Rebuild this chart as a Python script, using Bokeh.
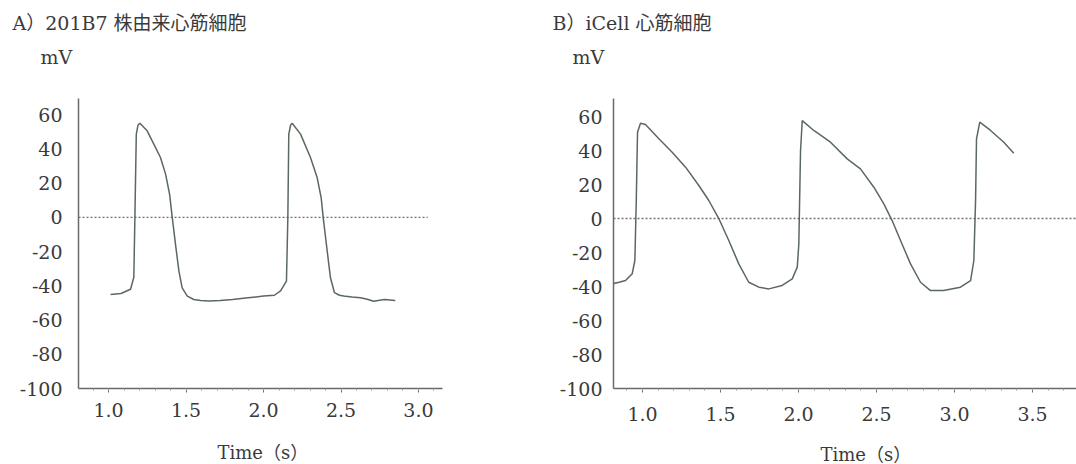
from bokeh.plotting import figure
from bokeh.layouts import row, column
from bokeh.models import FixedTicker, PrintfTickFormatter, Range1d
from bokeh.core.properties import value
from bokeh.embed import file_html
from bokeh.resources import INLINE

# ---------------- data ----------------
a_time = [1.013, 1.08, 1.142, 1.163, 1.17, 1.179, 1.19, 1.202, 1.249, 1.292, 1.335,
          1.368, 1.394, 1.411, 1.432, 1.454, 1.475, 1.508, 1.55, 1.594, 1.65, 1.72,
          1.8, 1.9, 2.0, 2.07, 2.11, 2.148, 2.157, 2.163, 2.175, 2.185, 2.239, 2.303,
          2.346, 2.372, 2.385, 2.411, 2.432, 2.458, 2.49, 2.518, 2.57, 2.626, 2.67,
          2.71, 2.78, 2.85]
a_mv = [-45.1, -44.5, -42, -35, 0, 48.7, 54, 55, 50.6, 42.8, 35,
        25.3, 13.5, 0, -15.8, -31.4, -41.2, -46, -48, -48.6, -48.8, -48.6,
        -48, -47, -46, -45.5, -43, -37.3, 0, 48.7, 54, 55, 48.7, 35,
        23.3, 11.5, 0, -19.7, -35.3, -44, -45.5, -46, -46.5, -47, -47.8,
        -49, -48, -48.5]

b_time = [0.806, 0.85, 0.891, 0.934, 0.951, 0.96, 0.968, 0.987, 1.019, 1.105, 1.19,
          1.276, 1.361, 1.425, 1.489, 1.553, 1.617, 1.681, 1.746, 1.81, 1.895, 1.96,
          1.992, 2.002, 2.013, 2.024, 2.098, 2.205, 2.312, 2.397, 2.483, 2.547, 2.6,
          2.654, 2.718, 2.782, 2.846, 2.93, 3.038, 3.103, 3.124, 3.135, 3.141, 3.162,
          3.231, 3.316, 3.38]
b_mv = [-38.4, -37.5, -36.5, -32.5, -24.7, 10.6, 50.8, 56, 55.3, 46.9, 39,
        30.2, 19.4, 10.6, 0, -12.9, -26.7, -37.5, -40.4, -41.4, -39.4, -35.5,
        -28.6, -14.9, 40, 57.6, 51.8, 44.9, 35.1, 29.2, 18.4, 8.6, -1.2,
        -12.9, -26.7, -37.5, -42.4, -42.4, -40.4, -36.5, -24.7, 10.6, 46.9, 56.7,
        51.8, 44.9, 38.4]

y_ticks = [60, 40, 20, 0, -20, -40, -60, -80, -100]
a_x_ticks = [1.0, 1.5, 2.0, 2.5, 3.0]
b_x_ticks = [1.0, 1.5, 2.0, 2.5, 3.0, 3.5]

a_zero_t = [0.806, 3.06]
b_zero_t = [0.814, 3.8]

title_a = "A）201B7 株由来心筋細胞"
title_b = "B）iCell 心筋細胞"
y_unit = "mV"
x_title = "Time（s）"

# ---------------- style ----------------
FONT = "DejaVu Serif, Noto Sans CJK JP"
TXT = "#3a3a3a"
AXC = "#6a6a6a"
TRACE = "#526055"
HEAD_H, MAIN_H, FOOT_H = 98, 336, 30
WA, WB = 545, 531


def blank(width, height):
    p = figure(width=width, height=height, output_backend="svg", toolbar_location=None,
               x_range=Range1d(0, width), y_range=Range1d(height, 0),
               x_axis_type=None, y_axis_type=None,
               min_border_left=0, min_border_right=0, min_border_top=0, min_border_bottom=0)
    p.outline_line_color = None
    p.grid.visible = False
    p.background_fill_color = "white"
    p.border_fill_color = "white"
    return p


def header(width, title, tpos, mvpos):
    p = blank(width, HEAD_H)
    p.text(x=[tpos[0]], y=[tpos[1]], text=[title], text_font=value(FONT),
           text_font_size="19px", text_color=TXT, text_baseline="alphabetic")
    p.text(x=[mvpos[0]], y=[mvpos[1]], text=[y_unit], text_font=value(FONT),
           text_font_size="19px", text_color=TXT, text_baseline="alphabetic")
    return p


def footer(width, pos):
    p = blank(width, FOOT_H)
    p.text(x=[pos[0]], y=[pos[1]], text=[x_title], text_font=value(FONT),
           text_font_size="18px", text_color=TXT, text_baseline="alphabetic")
    return p


def panel(width, left, right, xr, yr, xt, times, mvs, zero_t, ylab_standoff, xlab_standoff):
    p = figure(width=width, height=MAIN_H, output_backend="svg", toolbar_location=None,
               x_range=Range1d(*xr), y_range=Range1d(*yr),
               min_border_left=left, min_border_right=right,
               min_border_top=0, min_border_bottom=46)
    p.outline_line_color = None
    p.grid.visible = False
    p.background_fill_color = "white"
    p.border_fill_color = "white"

    p.line(zero_t, [0, 0], line_color="#707070", line_width=1.3, line_dash="2 2")
    p.line(times, mvs, line_color=TRACE, line_width=1.5, line_alpha=0.95)

    minor = [round(0.8 + i * 0.1, 1) for i in range(0, 31)]
    p.xaxis.ticker = FixedTicker(ticks=xt, minor_ticks=[m for m in minor if xr[0] <= m <= xr[1]])
    p.xaxis.formatter = PrintfTickFormatter(format="%.1f")
    p.yaxis.ticker = FixedTicker(ticks=y_ticks)
    p.yaxis.formatter = PrintfTickFormatter(format="%d")

    for ax in (p.xaxis, p.yaxis):
        ax.axis_line_color = AXC
        ax.axis_line_width = 1.5
        ax.major_label_text_font = FONT
        ax.major_label_text_font_size = "19px"
        ax.major_label_text_color = TXT
    p.xaxis.major_tick_line_color = AXC
    p.xaxis.major_tick_out = 4
    p.xaxis.major_tick_in = 0
    p.xaxis.minor_tick_line_color = "#9a9a9a"
    p.xaxis.minor_tick_out = 2
    p.xaxis.minor_tick_in = 0
    p.xaxis.major_label_standoff = xlab_standoff
    p.yaxis.major_tick_line_color = None
    p.yaxis.minor_tick_line_color = None
    p.yaxis.major_tick_out = 0
    p.yaxis.major_tick_in = 0
    p.yaxis.major_label_standoff = ylab_standoff
    return p


ha = header(WA, title_a, (12, 22), (40, 56))
hb = header(WB, title_b, (7, 22), (27, 56))
pa = panel(WA, 78, 103, (0.806, 3.155), (-100, 69.5), a_x_ticks,
           a_time, a_mv, a_zero_t, 16, 10)
pb = panel(WB, 68, 0, (0.814, 3.782), (-100, 70.6), b_x_ticks,
           b_time, b_mv, b_zero_t, 11, 14)
fa = footer(WA, (217, 18))
fb = footer(WB, (275, 20))

layout = column(row(ha, hb), row(pa, pb), row(fa, fb))
open("out.html", "w").write(file_html(layout, INLINE))
